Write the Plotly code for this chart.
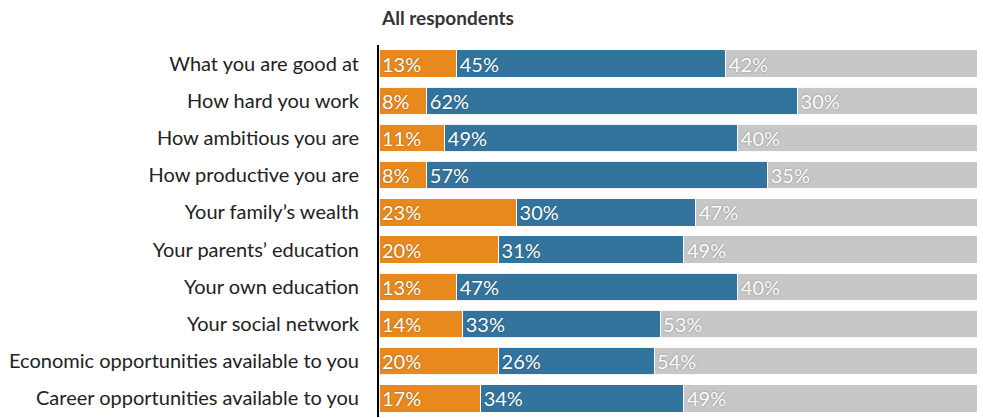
import plotly.graph_objects as go

categories = [
    "What you are good at",
    "How hard you work",
    "How ambitious you are",
    "How productive you are",
    "Your family\u2019s wealth",
    "Your parents\u2019 education",
    "Your own education",
    "Your social network",
    "Economic opportunities available to you",
    "Career opportunities available to you",
]
orange_vals = [13, 8, 11, 8, 23, 20, 13, 14, 20, 17]
blue_vals = [45, 62, 49, 57, 30, 31, 47, 33, 26, 34]
gray_vals = [42, 30, 40, 35, 47, 49, 40, 53, 54, 49]

series = [
    (orange_vals, "#E8891E"),
    (blue_vals, "#33749E"),
    (gray_vals, "#C7C7C7"),
]

fig = go.Figure()
for vals, color in series:
    fig.add_trace(go.Bar(
        y=categories,
        x=vals,
        orientation="h",
        marker=dict(color=color, line=dict(color="rgba(255,255,255,0.9)", width=1)),
        text=[f"{v}%" for v in vals],
        textposition="inside",
        insidetextanchor="start",
        constraintext="none",
        textangle=0,
        textfont=dict(family="Lato", size=20, color="white",
                      shadow="0px 0px 2px rgba(0,0,0,0.35)"),
        hoverinfo="skip",
        showlegend=False,
    ))

fig.update_layout(
    barmode="stack",
    bargap=0.26,
    width=983,
    height=418,
    margin=dict(l=379, r=6, t=45, b=1),
    paper_bgcolor="white",
    plot_bgcolor="white",
    font=dict(family="Lato", color="#222222"),
    xaxis=dict(range=[0, 100], showgrid=False, zeroline=False,
               showticklabels=False, fixedrange=True),
    yaxis=dict(autorange="reversed", showgrid=False, zeroline=False,
               showline=True, linecolor="black", linewidth=2,
               ticks="", ticklabelstandoff=14,
               tickfont=dict(family="Lato", size=20, color="#222222")),
    annotations=[dict(
        text="<b>All respondents</b>",
        xref="paper", yref="paper", x=0, y=1,
        xanchor="left", yanchor="bottom", yshift=14, showarrow=False,
        font=dict(family="Lato", size=19, color="#333333"),
    )],
)

fig.write_html("out.html")
